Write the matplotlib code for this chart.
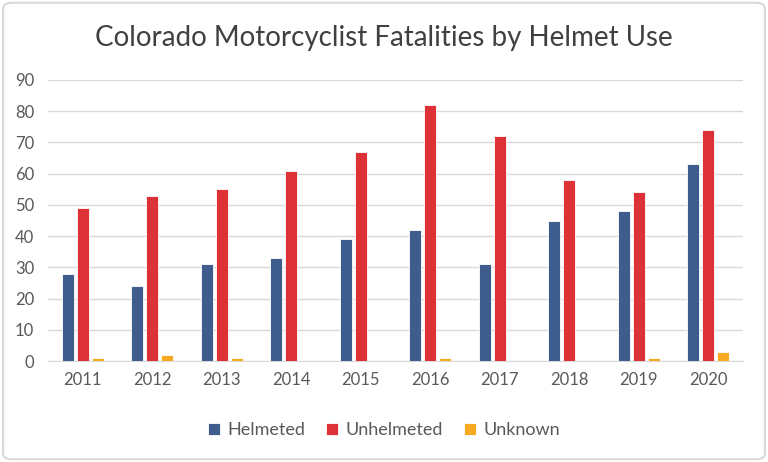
import matplotlib
matplotlib.use("Agg")
import matplotlib.pyplot as plt
import numpy as np
from matplotlib.patches import FancyBboxPatch

years = ["2011", "2012", "2013", "2014", "2015", "2016", "2017", "2018", "2019", "2020"]
helmeted = [28, 24, 31, 33, 39, 42, 31, 45, 48, 63]
unhelmeted = [49, 53, 55, 61, 67, 82, 72, 58, 54, 74]
unknown = [1, 2, 1, 0, 0, 1, 0, 0, 1, 3]
series_names = ["Helmeted", "Unhelmeted", "Unknown"]
colors = ["#3E5C8C", "#DB3137", "#F5AA22"]

plt.rcParams['font.family'] = ['Lato', 'DejaVu Sans']

fig = plt.figure(figsize=(7.68, 4.62), dpi=100)
ax = fig.add_axes([48/768, 1-361/462, (743-48)/768, (361-80)/462])

x = np.arange(len(years))
w = 0.175
step = 0.215
for i, (vals, name, c) in enumerate(zip([helmeted, unhelmeted, unknown], series_names, colors)):
    ax.bar(x + (i-1)*step, vals, width=w, color=c, label=name, edgecolor='white', linewidth=0.6, zorder=3)

ax.set_xlim(-0.5, len(years)-0.5)
ax.set_ylim(0, 90)
ax.set_yticks(range(0, 91, 10))
ax.set_xticks(x)
ax.set_xticklabels(years)
ax.grid(axis='y', color='#D9D9D9', linewidth=1.0, zorder=0)
for s in ['top', 'right', 'left']:
    ax.spines[s].set_visible(False)
ax.spines['bottom'].set_color('#D9D9D9')
ax.tick_params(axis='both', length=0, labelsize=12, colors='#595959', pad=8)
ax.tick_params(axis='y', pad=10)

fig.text(0.5, 1-38/462, "Colorado Motorcyclist Fatalities by Helmet Use", ha='center', va='center',
         fontsize=20, color='#404040')

leg = fig.legend(loc='center', bbox_to_anchor=(0.5, 1-430/462), ncol=3, frameon=False,
                 fontsize=13, handlelength=0.65, handleheight=0.65, columnspacing=1.2, handletextpad=0.4)
for t in leg.get_texts():
    t.set_color('#595959')

border = FancyBboxPatch((0.004, 0.006), 0.992, 0.988, boxstyle="round,pad=0,rounding_size=0.012",
                        transform=fig.transFigure, fill=False, edgecolor='#D9D9D9', linewidth=1.5)
fig.patches.append(border)

fig.savefig("out.png", dpi=100)
